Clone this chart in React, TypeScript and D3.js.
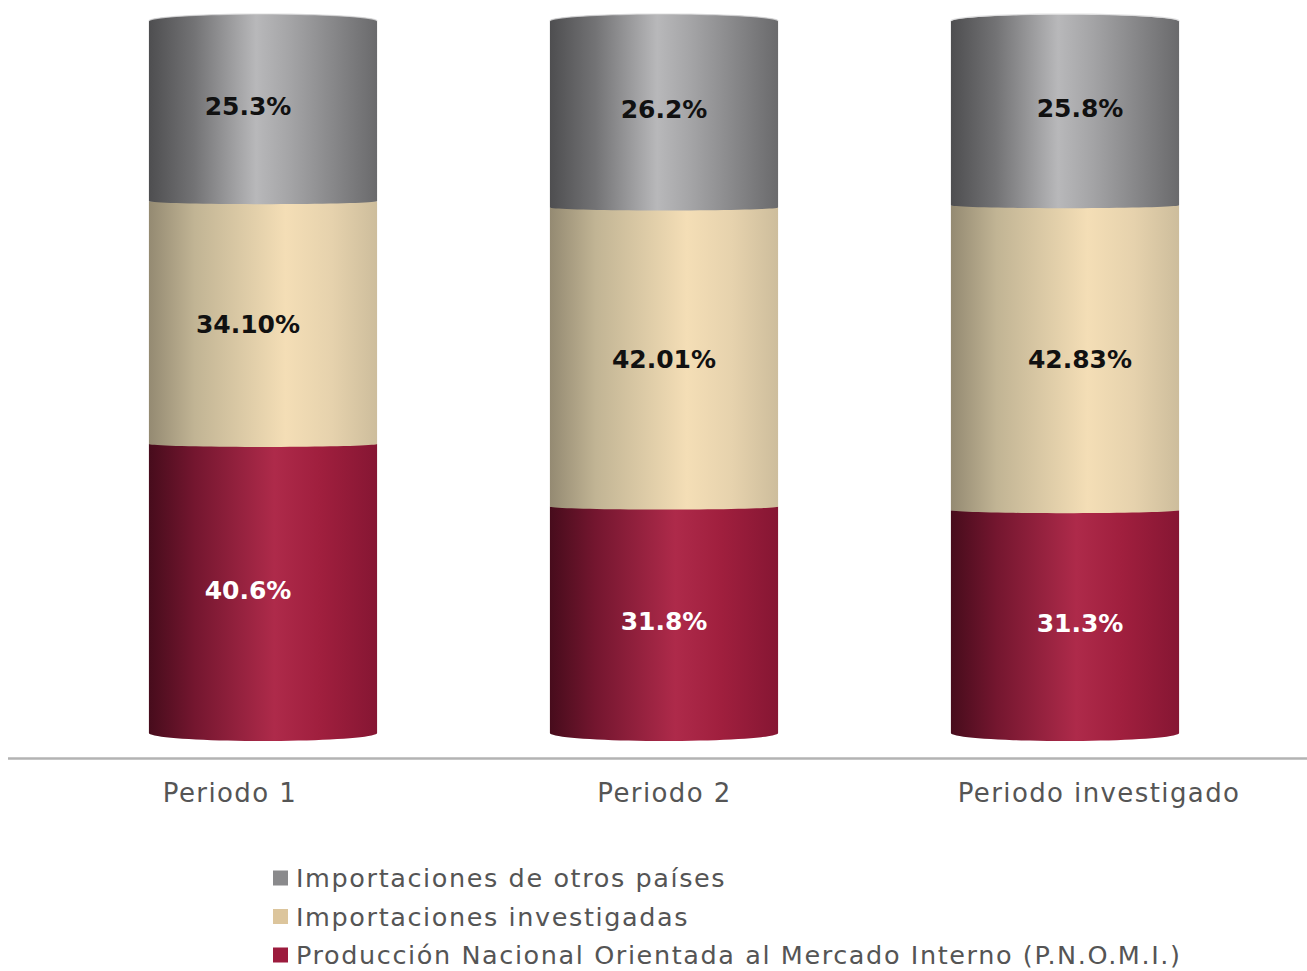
import React from "react";
import * as d3 from "d3";

const categories = ["Periodo 1", "Periodo 2", "Periodo investigado"];
const pnomi = [40.6, 31.8, 31.3];
const investigadas = [34.1, 42.01, 42.83];
const otros = [25.3, 26.2, 25.8];
const valueLabels = {
  pnomi: ["40.6%", "31.8%", "31.3%"],
  investigadas: ["34.10%", "42.01%", "42.83%"],
  otros: ["25.3%", "26.2%", "25.8%"],
};
const seriesKeys = ["pnomi", "investigadas", "otros"] as const;
const legendLabels = [
  "Importaciones de otros países",
  "Importaciones investigadas",
  "Producción Nacional Orientada al Mercado Interno (P.N.O.M.I.)",
];

const W = 1307;
const H = 971;
const FONT = "'DejaVu Sans', sans-serif";

const gradStops: Record<string, [number, string][]> = {
  otros: [
    [0, "#4e4e50"],
    [0.2, "#737375"],
    [0.47, "#b8b8ba"],
    [0.62, "#a4a4a6"],
    [1, "#6a6a6c"],
  ],
  investigadas: [
    [0, "#948a72"],
    [0.2, "#c1b494"],
    [0.6, "#f4deb6"],
    [0.8, "#e6d2ad"],
    [1, "#cdbd9c"],
  ],
  pnomi: [
    [0, "#470c1c"],
    [0.2, "#74162f"],
    [0.55, "#ae2a4a"],
    [0.75, "#a01f3e"],
    [1, "#861633"],
  ],
};
const legendColors: Record<string, string> = {
  otros: "#8a8a8c",
  investigadas: "#dcc59c",
  pnomi: "#9c1b3d",
};
const textColors: Record<string, string> = {
  otros: "#111",
  investigadas: "#111",
  pnomi: "#fff",
};

export default function App() {
  const rows = categories.map((c, i) => ({
    cat: c,
    pnomi: pnomi[i],
    investigadas: investigadas[i],
    otros: otros[i],
  }));
  const stack = d3.stack<any>().keys(seriesKeys as any);
  const stacked = stack(rows);

  const x = d3
    .scaleBand<string>()
    .domain(categories)
    .range([62.5, 1265.5])
    .paddingInner(0.431)
    .paddingOuter(0.2155);
  const xLabel = d3.scalePoint<string>().domain(categories).range([230, 1099]);
  const xVal = d3.scalePoint<string>().domain(categories).range([248, 1080]);
  const y = d3.scaleLinear().domain([0, 100]).range([733, 21]);

  const bw = x.bandwidth();
  const rx = bw / 2;

  const segPath = (x0: number, yTop: number, yBot: number, ryTop: number, ryBot: number) => {
    const p = d3.path();
    p.moveTo(x0, yTop);
    p.lineTo(x0, yBot);
    const steps = 40;
    for (let k = 1; k <= steps; k++) {
      const t = Math.PI - (Math.PI * k) / steps;
      p.lineTo(x0 + rx + rx * Math.cos(t), yBot + ryBot * Math.sin(Math.PI - t));
    }
    p.lineTo(x0 + bw, yTop);
    if (ryTop > 0) {
      for (let k = 1; k <= steps; k++) {
        const t = (Math.PI * k) / steps;
        p.lineTo(x0 + rx + rx * Math.cos(t), yTop - ryTop * Math.sin(t));
      }
    }
    p.closePath();
    return p.toString();
  };

  return (
    <svg width={W} height={H} style={{ display: "block", position: "absolute", left: 0, top: 0 }}>
      <defs>
        {seriesKeys.map((k) => (
          <linearGradient key={k} id={`g-${k}`} x1="0" x2="1" y1="0" y2="0">
            {gradStops[k].map(([o, c], j) => (
              <stop key={j} offset={o} stopColor={c} />
            ))}
          </linearGradient>
        ))}
      </defs>
      <rect width={W} height={H} fill="#fff" />
      {categories.map((cat, i) => {
        const x0 = x(cat)!;
        return (
          <g key={cat}>
            {stacked.map((s, si) => {
              const d = s[i];
              const yTop = y(d[1]);
              const yBot = y(d[0]);
              const isBottom = si === 0;
              const isTop = si === stacked.length - 1;
              return (
                <path
                  key={s.key}
                  d={segPath(x0, yTop, yBot, isTop ? 7 : 0, isBottom ? 8 : 3)}
                  fill={`url(#g-${s.key})`}
                />
              );
            })}
            <path
              d={(() => {
                const p = d3.path();
                const yT = y(100);
                for (let k = 0; k <= 40; k++) {
                  const t = Math.PI - (Math.PI * k) / 40;
                  const px = x0 + rx + rx * Math.cos(t);
                  const py = yT - 7 * Math.sin(t);
                  if (k === 0) p.moveTo(px, py);
                  else p.lineTo(px, py);
                }
                return p.toString();
              })()}
              fill="none"
              stroke="#d8d8da"
              strokeWidth={1.2}
              opacity={0.8}
            />
          </g>
        );
      })}
      {categories.map((cat, i) =>
        stacked.map((s) => {
          const d = s[i];
          const key = s.key as keyof typeof valueLabels;
          const ym = (y(d[0]) + y(d[1])) / 2 + (key === "otros" ? -5 : 2);
          return (
            <text
              key={cat + key}
              x={xVal(cat)}
              y={ym}
              textAnchor="middle"
              dominantBaseline="central"
              fontFamily={FONT}
              fontWeight="bold"
              fontSize={25}
              fill={textColors[key]}
            >
              {valueLabels[key][i]}
            </text>
          );
        })
      )}
      <line x1={8} x2={1307} y1={758.5} y2={758.5} stroke="#b3b3b3" strokeWidth={2.5} />
      {categories.map((cat) => (
        <text
          key={cat}
          x={xLabel(cat)}
          y={793}
          textAnchor="middle"
          dominantBaseline="central"
          fontFamily={FONT}
          fontSize={26}
          letterSpacing={1.4}
          fill="#555"
        >
          {cat}
        </text>
      ))}
      {(["otros", "investigadas", "pnomi"] as const).map((k, j) => (
        <g key={k} transform={`translate(273, ${878 + j * 38.5})`}>
          <rect x={0} y={-7.5} width={15} height={15} fill={legendColors[k]} />
          <text
            x={23}
            y={0}
            dominantBaseline="central"
            fontFamily={FONT}
            fontSize={25.5}
            letterSpacing={1.6}
            fill="#555"
          >
            {legendLabels[j]}
          </text>
        </g>
      ))}
    </svg>
  );
}
